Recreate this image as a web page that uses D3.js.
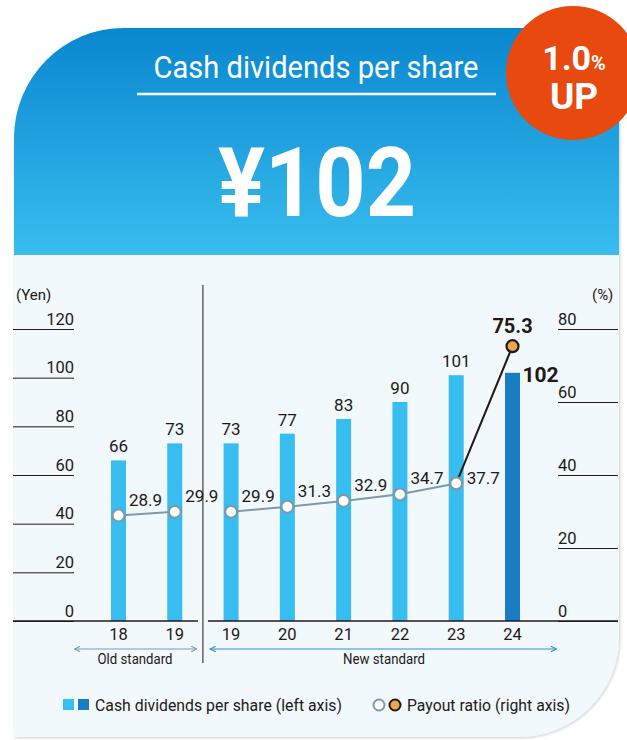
<!DOCTYPE html>
<html>
<head>
<meta charset="utf-8">
<script src="https://cdn.jsdelivr.net/npm/d3@7"></script>
<style>
  body { margin: 0; background: #fff; }
  text { font-family: "Roboto", sans-serif; fill: #231815; }
</style>
</head>
<body>
<div id="chart"></div>
<script>
const years = ["18", "19", "19", "20", "21", "22", "23", "24"];
const standard = ["old", "old", "new", "new", "new", "new", "new", "new"];
const dividends = [66, 73, 73, 77, 83, 90, 101, 102];
const payout = [28.9, 29.9, 29.9, 31.3, 32.9, 34.7, 37.7, 75.3];
const yenTicks = [0, 20, 40, 60, 80, 100, 120];
const pctTicks = [0, 20, 40, 60, 80];

const ink = "#231815";
const light = "#38bdf0", dark = "#1a7cc2", gray = "#7d9aab", orange = "#e8a850";

const svg = d3.select("#chart").append("svg").attr("width", 627).attr("height", 740);
const defs = svg.append("defs");

const grad = defs.append("linearGradient").attr("id", "hdr").attr("x1", 0).attr("y1", 0).attr("x2", 0).attr("y2", 1);
grad.append("stop").attr("offset", "0%").attr("stop-color", "#0380cc");
grad.append("stop").attr("offset", "100%").attr("stop-color", "#39bdee");

const shadow = defs.append("filter").attr("id", "sh").attr("x", "-5%").attr("y", "-5%").attr("width", "110%").attr("height", "110%");
shadow.append("feDropShadow").attr("dx", 1).attr("dy", 1).attr("stdDeviation", 1.5).attr("flood-opacity", 0.2);

// card
const card = "M14,737 L14,138 A110,110 0 0 1 124,28 L619,28 L619,637 A100,100 0 0 1 519,737 Z";
defs.append("clipPath").attr("id", "cardClip").append("path").attr("d", card);
svg.append("path").attr("d", card).attr("fill", "#f2f9fd").attr("filter", "url(#sh)");
const cardG = svg.append("g").attr("clip-path", "url(#cardClip)");
cardG.append("rect").attr("x", 0).attr("y", 0).attr("width", 627).attr("height", 255).attr("fill", "url(#hdr)");

// header
svg.append("text").attr("x", 316).attr("y", 78).attr("text-anchor", "middle")
  .attr("textLength", 325).attr("lengthAdjust", "spacingAndGlyphs")
  .style("fill", "#fff").style("font-size", "31px").text("Cash dividends per share");
svg.append("line").attr("x1", 137).attr("x2", 496).attr("y1", 94).attr("y2", 94)
  .attr("stroke", "#fff").attr("stroke-width", 2.5);
svg.append("text").attr("x", 317).attr("y", 216).attr("text-anchor", "middle")
  .attr("textLength", 198).attr("lengthAdjust", "spacingAndGlyphs")
  .style("fill", "#fff").style("font-size", "96px").style("font-weight", "bold")
  .text("¥102");

// badge
svg.append("circle").attr("cx", 573).attr("cy", 73).attr("r", 67).attr("fill", "#e8490f");
const b1 = svg.append("text").attr("x", 574).attr("y", 70).attr("text-anchor", "middle")
  .style("fill", "#fff").style("font-weight", "bold");
b1.append("tspan").style("fill", "#fff").style("font-size", "34px").text("1.0");
b1.append("tspan").style("fill", "#fff").style("font-size", "20px").text("%");
svg.append("text").attr("x", 574).attr("y", 109).attr("text-anchor", "middle")
  .style("fill", "#fff").style("font-size", "37px").style("font-weight", "bold").text("UP");

// scales
const x = d3.scalePoint().domain(d3.range(years.length)).range([118.5, 512.5]);
const yL = d3.scaleLinear().domain([0, 120]).range([621, 329]);
const yR = d3.scaleLinear().domain([0, 80]).range([621, 329]);

// left axis
const axL = svg.append("g").attr("transform", "translate(13,0)")
  .call(d3.axisRight(yL).tickValues(yenTicks).tickSize(61).tickPadding(0));
axL.select(".domain").remove();
axL.selectAll(".tick line").attr("stroke", ink).attr("stroke-width", 1);
axL.selectAll(".tick text").attr("x", 61).attr("dy", -5).attr("text-anchor", "end")
  .style("font-size", "16.5px").attr("fill", ink);
svg.append("text").attr("x", 16).attr("y", 300).style("font-size", "15px").text("(Yen)");

// right axis
const axR = svg.append("g").attr("transform", "translate(558,0)")
  .call(d3.axisRight(yR).tickValues(pctTicks).tickSize(60).tickPadding(0));
axR.select(".domain").remove();
axR.selectAll(".tick line").attr("stroke", ink).attr("stroke-width", 1);
axR.selectAll(".tick text").attr("x", 0).attr("dy", -5).attr("text-anchor", "start")
  .style("font-size", "16.5px").attr("fill", ink);
svg.append("text").attr("x", 592).attr("y", 300).style("font-size", "15px").text("(%)");

// bars
const bw = 15;
svg.selectAll("rect.bar").data(dividends).join("rect").attr("class", "bar")
  .attr("x", (d, i) => x(i) - bw / 2).attr("width", bw)
  .attr("y", d => yL(d)).attr("height", d => yL(0) - yL(d))
  .attr("fill", (d, i) => i === dividends.length - 1 ? dark : light);

const last = dividends.length - 1;
svg.selectAll("text.bv").data(dividends).join("text").attr("class", "bv")
  .attr("x", (d, i) => i === last ? x(i) + 10 : x(i))
  .attr("y", (d, i) => i === last ? yL(d) + 9 : yL(d) - 8)
  .attr("text-anchor", (d, i) => i === last ? "start" : "middle")
  .style("font-size", (d, i) => i === last ? "21px" : "17px")
  .style("font-weight", (d, i) => i === last ? "bold" : "normal")
  .text(d => d);

// baseline and divider
const mid = (x(1) + x(2)) / 2;
svg.append("line").attr("x1", 13).attr("x2", mid - 5).attr("y1", yL(0)).attr("y2", yL(0)).attr("stroke", ink).attr("stroke-width", 1.5);
svg.append("line").attr("x1", mid + 5).attr("x2", 618).attr("y1", yL(0)).attr("y2", yL(0)).attr("stroke", ink).attr("stroke-width", 1.5);
svg.append("line").attr("x1", mid).attr("x2", mid).attr("y1", 285).attr("y2", 663).attr("stroke", ink).attr("stroke-width", 1);

// payout lines
const pts = payout.map((v, i) => [x(i), yR(v)]);
const line = d3.line();
const oldIdx = d3.range(years.length).filter(i => standard[i] === "old");
const newIdx = d3.range(years.length).filter(i => standard[i] === "new");
svg.append("path").attr("d", line(oldIdx.map(i => pts[i]))).attr("fill", "none").attr("stroke", gray).attr("stroke-width", 2);
svg.append("path").attr("d", line(newIdx.slice(0, -1).map(i => pts[i]))).attr("fill", "none").attr("stroke", gray).attr("stroke-width", 2);
svg.append("path").attr("d", line([pts[last - 1], pts[last]])).attr("fill", "none").attr("stroke", ink).attr("stroke-width", 2);

svg.selectAll("circle.pt").data(payout).join("circle").attr("class", "pt")
  .attr("cx", (d, i) => x(i)).attr("cy", d => yR(d)).attr("r", 6)
  .attr("fill", (d, i) => i === last ? orange : "#fff")
  .attr("stroke", (d, i) => i === last ? ink : gray).attr("stroke-width", 2.2);

svg.selectAll("text.pv").data(payout).join("text").attr("class", "pv")
  .attr("x", (d, i) => i === last ? x(i) : x(i) + 10.5)
  .attr("y", (d, i) => i === last ? yR(d) - 13 : (i === last - 1 ? yR(d) + 1 : yR(d) - 10))
  .attr("text-anchor", (d, i) => i === last ? "middle" : "start")
  .style("font-size", (d, i) => i === last ? "20px" : "17px")
  .style("font-weight", (d, i) => i === last ? "bold" : "normal")
  .text(d => d.toFixed(1));

// categories
svg.selectAll("text.cat").data(years).join("text").attr("class", "cat")
  .attr("x", (d, i) => x(i)).attr("y", 640).attr("text-anchor", "middle")
  .style("font-size", "16.5px").text(d => d);

// standard arrows
function arrow(id, color) {
  const m = defs.append("marker").attr("id", id).attr("viewBox", "0 0 10 10")
    .attr("refX", 9).attr("refY", 5).attr("markerWidth", 7).attr("markerHeight", 7)
    .attr("markerUnits", "userSpaceOnUse").attr("orient", "auto-start-reverse");
  m.append("path").attr("d", "M1,1 L9,5 L1,9").attr("fill", "none").attr("stroke", color).attr("stroke-width", 1.5);
}
arrow("aOld", gray);
arrow("aNew", "#2b8fd0");
svg.append("line").attr("x1", x(0) - 44).attr("x2", x(1) + 22).attr("y1", 649).attr("y2", 649)
  .attr("stroke", gray).attr("stroke-width", 1.2)
  .attr("marker-start", "url(#aOld)").attr("marker-end", "url(#aOld)");
svg.append("line").attr("x1", x(2) - 21).attr("x2", x(last) + 44).attr("y1", 649).attr("y2", 649)
  .attr("stroke", "#2b8fd0").attr("stroke-width", 1.2)
  .attr("marker-start", "url(#aNew)").attr("marker-end", "url(#aNew)");
svg.append("text").attr("x", 135).attr("y", 664).attr("text-anchor", "middle").style("font-size", "14px")
  .attr("textLength", 75).attr("lengthAdjust", "spacingAndGlyphs").text("Old standard");
svg.append("text").attr("x", 384).attr("y", 664).attr("text-anchor", "middle").style("font-size", "14px")
  .attr("textLength", 82).attr("lengthAdjust", "spacingAndGlyphs").text("New standard");

// legend
svg.append("rect").attr("x", 63).attr("y", 699).attr("width", 11).attr("height", 11).attr("fill", light);
svg.append("rect").attr("x", 78).attr("y", 699).attr("width", 11).attr("height", 11).attr("fill", dark);
svg.append("text").attr("x", 95).attr("y", 711).style("font-size", "16.5px")
  .attr("textLength", 247).attr("lengthAdjust", "spacingAndGlyphs").text("Cash dividends per share (left axis)");
svg.append("circle").attr("cx", 379).attr("cy", 705).attr("r", 5.5).attr("fill", "#fff").attr("stroke", gray).attr("stroke-width", 2);
svg.append("circle").attr("cx", 395).attr("cy", 705).attr("r", 5.5).attr("fill", orange).attr("stroke", ink).attr("stroke-width", 2);
svg.append("text").attr("x", 407).attr("y", 711).style("font-size", "16.5px")
  .attr("textLength", 163).attr("lengthAdjust", "spacingAndGlyphs").text("Payout ratio (right axis)");
</script>
</body>
</html>
